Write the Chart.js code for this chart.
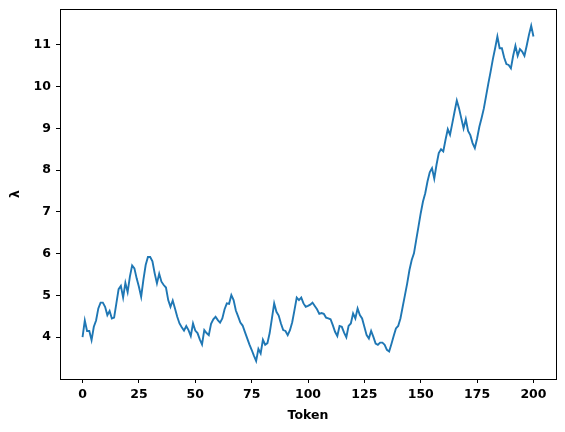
<!DOCTYPE html>
<html>
<head>
<meta charset="utf-8">
<script src="https://cdn.jsdelivr.net/npm/chart.js@4/dist/chart.umd.min.js"></script>
<style>
  html, body { margin: 0; padding: 0; background: #ffffff; }
  #wrap { width: 565px; height: 432px; }
</style>
</head>
<body>
<div id="wrap"><canvas id="c" width="565" height="432"></canvas></div>
<script>
const tokens = Array.from({length: 201}, (_, i) => i);
const lambdaValues = [
  4.00, 4.40, 4.15, 4.15, 3.93, 4.25, 4.40, 4.69, 4.83, 4.83,
  4.73, 4.53, 4.63, 4.45, 4.47, 4.81, 5.15, 5.23, 4.95, 5.30,
  5.08, 5.45, 5.72, 5.65, 5.41, 5.21, 4.97, 5.38, 5.73, 5.92,
  5.92, 5.82, 5.53, 5.29, 5.52, 5.33, 5.25, 5.19, 4.89, 4.73,
  4.88, 4.69, 4.49, 4.33, 4.24, 4.16, 4.27, 4.17, 4.03, 4.33,
  4.16, 4.10, 3.95, 3.83, 4.17, 4.10, 4.05, 4.32, 4.43, 4.49,
  4.41, 4.35, 4.45, 4.67, 4.81, 4.80, 5.01, 4.89, 4.64, 4.50,
  4.35, 4.28, 4.13, 3.98, 3.83, 3.70, 3.56, 3.43, 3.72, 3.61,
  3.94, 3.82, 3.86, 4.10, 4.45, 4.81, 4.61, 4.52, 4.33, 4.17,
  4.15, 4.05, 4.17, 4.36, 4.65, 4.95, 4.89, 4.95, 4.81, 4.73,
  4.75, 4.78, 4.83, 4.75, 4.67, 4.56, 4.58, 4.56, 4.47, 4.45,
  4.43, 4.29, 4.13, 4.03, 4.27, 4.25, 4.11, 4.00, 4.27, 4.33,
  4.57, 4.45, 4.69, 4.53, 4.45, 4.25, 4.05, 3.97, 4.15, 4.01,
  3.85, 3.82, 3.87, 3.87, 3.82, 3.70, 3.66, 3.84, 4.03, 4.21,
  4.27, 4.45, 4.73, 5.01, 5.29, 5.61, 5.85, 6.01, 6.33, 6.65,
  6.97, 7.25, 7.45, 7.73, 7.95, 8.05, 7.80, 8.13, 8.41, 8.50,
  8.45, 8.73, 8.98, 8.85, 9.12, 9.40, 9.67, 9.48, 9.24, 9.00,
  9.22, 8.94, 8.84, 8.65, 8.53, 8.76, 9.04, 9.25, 9.48, 9.78,
  10.08, 10.36, 10.66, 10.92, 11.20, 10.92, 10.92, 10.70, 10.54, 10.52,
  10.44, 10.74, 10.98, 10.74, 10.90, 10.84, 10.74, 10.98, 11.24, 11.46,
  11.20
];
const xTickValues = [0, 25, 50, 75, 100, 125, 150, 175, 200];
const yTickValues = [4, 5, 6, 7, 8, 9, 10, 11];
const xTitle = 'Token';
const yTitle = 'λ';

const FONT = { family: '"DejaVu Sans", sans-serif', size: 12.5, weight: 'bold' };

const frame = {
  id: 'frame',
  afterDraw(chart) {
    const a = chart.chartArea, ctx = chart.ctx;
    ctx.save();
    ctx.strokeStyle = '#000';
    ctx.lineWidth = 1;
    ctx.strokeRect(Math.round(a.left) + 0.5, Math.round(a.top) + 0.5,
                   Math.round(a.right - a.left), Math.round(a.bottom - a.top));
    ctx.restore();
  }
};

new Chart(document.getElementById('c'), {
  type: 'line',
  data: {
    datasets: [{
      data: tokens.map((t, i) => ({ x: t, y: lambdaValues[i] })),
      borderColor: '#1f77b4',
      borderWidth: 1.9,
      pointRadius: 0,
      tension: 0,
      fill: false
    }]
  },
  options: {
    responsive: false,
    animation: false,
    devicePixelRatio: 1,
    layout: { padding: { top: 9, right: 9, left: 0, bottom: 0 } },
    plugins: { legend: { display: false }, tooltip: { enabled: false } },
    scales: {
      x: {
        type: 'linear',
        min: -10,
        max: 210,
        afterBuildTicks(s) { s.ticks = xTickValues.map(v => ({ value: v })); },
        afterFit(s) { s.height = 53; s.paddingLeft = 0; s.paddingRight = 0; },
        grid: { display: true, drawOnChartArea: false, drawTicks: true, tickLength: 4, tickColor: '#000', tickWidth: 1 },
        border: { display: true, color: '#000', width: 1 },
        ticks: { color: '#000', font: FONT, padding: 4, maxRotation: 0, autoSkip: false },
        title: { display: true, text: xTitle, color: '#000', font: FONT, padding: { top: 4, bottom: 9 } }
      },
      y: {
        type: 'linear',
        min: 3.0,
        max: 11.86,
        afterBuildTicks(s) { s.ticks = yTickValues.map(v => ({ value: v })); },
        afterFit(s) { s.width = 60; s.paddingTop = 0; s.paddingBottom = 0; },
        grid: { display: true, drawOnChartArea: false, drawTicks: true, tickLength: 4, tickColor: '#000', tickWidth: 1 },
        border: { display: true, color: '#000', width: 1 },
        ticks: { color: '#000', font: FONT, padding: 5, autoSkip: false },
        title: { display: true, text: yTitle, color: '#000', font: FONT, padding: { top: 8.5, bottom: 4 } }
      }
    }
  },
  plugins: [frame]
});
</script>
</body>
</html>
